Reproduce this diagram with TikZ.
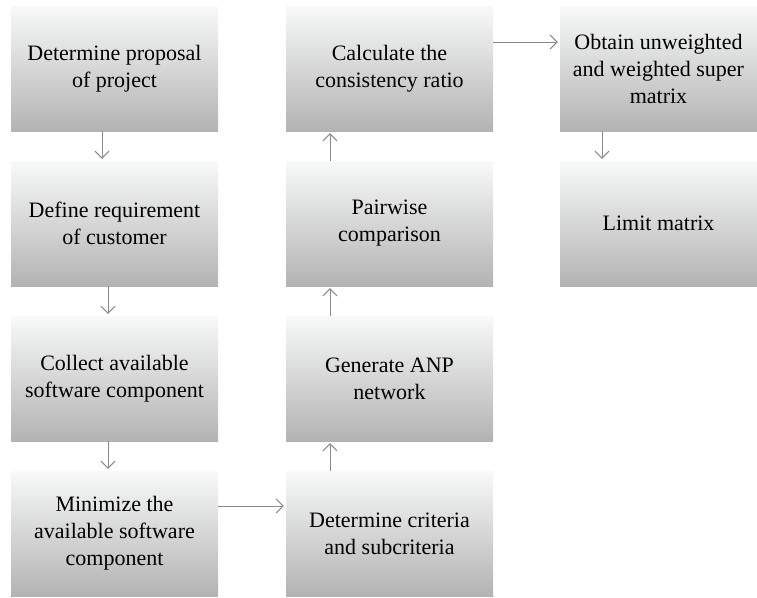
\documentclass[tikz,border=0pt]{standalone}
\usepackage{fontspec}
\setmainfont{Liberation Serif}
\usepackage{tikz}
\usetikzlibrary{arrows.meta}
\definecolor{boxtop}{HTML}{F8F9F9}
\definecolor{boxbot}{HTML}{B3B3B3}
\definecolor{flowgray}{HTML}{8A8A8A}
\tikzset{
  stepbox/.style={minimum width=207pt,minimum height=125pt,inner sep=0pt,
    align=center,top color=boxtop,bottom color=boxbot,
    font=\fontsize{22}{27}\selectfont},
  flow/.style={draw=flowgray,line width=1pt,
    -{Straight Barb[length=7pt,width=14pt,line width=1pt]},shorten >=2pt}
}

\begin{document}
\begin{tikzpicture}[x=1pt,y=-1pt]
    \useasboundingbox (0,0) rectangle (757,597);
    % left column
    \node[stepbox] (propose)  at (114.5,68.5)  {Determine proposal\\of project};
    \node[stepbox] (require)  at (114.5,223.5) {Define requirement\\of customer};
    \node[stepbox] (collect)  at (114.5,378.5) {Collect available\\software component};
    \node[stepbox] (minimize) at (114.5,533.5) {Minimize the\\available software\\component};
    % middle column
    \node[stepbox] (ratio)    at (389.5,68.5)  {Calculate the\\consistency ratio};
    \node[stepbox] (pairwise) at (389.5,223.5) {Pairwise\\comparison};
    \node[stepbox] (network)  at (389.5,378.5) {Generate ANP\\network};
    \node[stepbox] (criteria) at (389.5,533.5) {Determine criteria\\and subcriteria};
    % right column
    \node[stepbox,minimum width=197pt] (supermat) at (658.5,68.5)  {Obtain unweighted\\and weighted super\\matrix};
    \node[stepbox,minimum width=197pt] (limitmat) at (658.5,223.5) {Limit matrix};
    % connectors
    \draw[flow] ([xshift=-12.5pt]propose.south) -- ([xshift=-12.5pt]require.north);
    \draw[flow] ([xshift=-6.5pt]require.south) -- ([xshift=-6.5pt]collect.north);
    \draw[flow] ([xshift=-6.5pt]collect.south) -- ([xshift=-6.5pt]minimize.north);
    \draw[flow] ([yshift=27.5pt]minimize.east) -- ([yshift=27.5pt]criteria.west);
    \draw[flow] ([xshift=-59.5pt]criteria.north) -- ([xshift=-59.5pt]network.south);
    \draw[flow] ([xshift=-59.5pt]network.north) -- ([xshift=-59.5pt]pairwise.south);
    \draw[flow] ([xshift=-59.5pt]pairwise.north) -- ([xshift=-59.5pt]ratio.south);
    \draw[flow] ([yshift=26.5pt]ratio.east) -- ([yshift=26.5pt]supermat.west);
    \draw[flow] ([xshift=-56.5pt]supermat.south) -- ([xshift=-56.5pt]limitmat.north);
  \end{tikzpicture}
\end{document}
